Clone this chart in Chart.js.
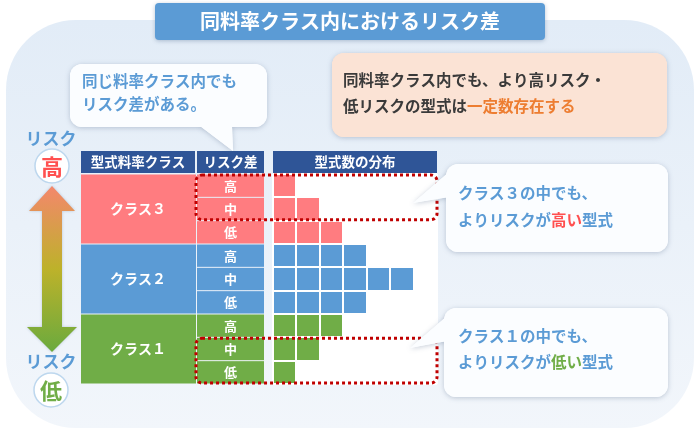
<!DOCTYPE html>
<html>
<head>
<meta charset="utf-8">
<script src="https://cdn.jsdelivr.net/npm/chart.js@4.4.0/dist/chart.umd.min.js"></script>
<style>
  html, body { margin: 0; padding: 0; background: #fff; }
  #wrap { width: 700px; height: 432px; }
</style>
</head>
<body>
<div id="wrap"><canvas id="riskChart" width="700" height="432"></canvas></div>
<script>
// rows: class 3 (high/mid/low), class 2, class 1
const classNames = ['クラス３', 'クラス２', 'クラス１'];
const riskLevels = ['高', '中', '低'];
const class3Counts = [1, 2, 3];
const class2Counts = [4, 6, 4];
const class1Counts = [3, 2, 1];
const headers = ['型式料率クラス', 'リスク差', '型式数の分布'];

const classColors = ['#FF7C80', '#5B9BD5', '#70AD47'];
const FONT = '"Noto Sans CJK JP", "Noto Sans", sans-serif';

const rowLabels = [];
const rowColors = [];
classNames.forEach((c, ci) => riskLevels.forEach(r => {
  rowLabels.push(c + ' ' + r);
  rowColors.push(classColors[ci]);
}));
const counts = [...class3Counts, ...class2Counts, ...class1Counts];

function rowBounds(chart, i) {
  const y = chart.scales.y;
  const half = (chart.chartArea.bottom - chart.chartArea.top) / (rowLabels.length * 2);
  const c = y.getPixelForValue(i);
  return [c - half, c + half];
}

function text(ctx, str, x, y, size, color, align) {
  ctx.font = 'bold ' + size + 'px ' + FONT;
  ctx.fillStyle = color;
  ctx.textAlign = align || 'center';
  ctx.textBaseline = 'middle';
  ctx.fillText(str, x, y);
}

// text made of [string, colour] pieces
function richText(ctx, parts, x, y, size) {
  ctx.font = 'bold ' + size + 'px ' + FONT;
  ctx.textAlign = 'left';
  ctx.textBaseline = 'middle';
  let cx = x;
  parts.forEach(p => {
    ctx.fillStyle = p[1];
    ctx.fillText(p[0], cx, y);
    cx += ctx.measureText(p[0]).width;
  });
}

function shape(ctx, x, y, w, h, tail) {
  ctx.beginPath();
  ctx.roundRect(x, y, w, h, 12);
  ctx.fill();
  if (tail) {
    ctx.beginPath();
    ctx.moveTo(tail[0][0], tail[0][1]);
    ctx.lineTo(tail[1][0], tail[1][1]);
    ctx.lineTo(tail[2][0], tail[2][1]);
    ctx.closePath();
    ctx.fill();
  }
}

function callout(ctx, x, y, w, h, tail, fill) {
  ctx.save();
  ctx.shadowColor = 'rgba(90,110,140,0.35)';
  ctx.shadowBlur = 5;
  ctx.shadowOffsetY = 1;
  ctx.fillStyle = fill;
  shape(ctx, x, y, w, h, tail);
  ctx.restore();
  ctx.fillStyle = fill;
  shape(ctx, x, y, w, h, tail);
}

const decor = {
  id: 'decor',
  beforeDraw(chart) {
    const ctx = chart.ctx;
    const area = chart.chartArea;
    ctx.save();
    ctx.fillStyle = '#fff';
    ctx.fillRect(0, 0, chart.width, chart.height);

    // pale blue backdrop
    const bg = ctx.createLinearGradient(0, 20, 0, 430);
    bg.addColorStop(0, '#E2ECF7');
    bg.addColorStop(1, '#F2F6FB');
    ctx.fillStyle = bg;
    ctx.beginPath();
    ctx.roundRect(6, 20, 688, 408, 70);
    ctx.fill();

    // title
    ctx.save();
    ctx.shadowColor = 'rgba(60,90,130,0.35)';
    ctx.shadowBlur = 4;
    ctx.shadowOffsetY = 1;
    ctx.fillStyle = '#5B9BD5';
    ctx.beginPath();
    ctx.roundRect(155, 3, 390, 37, 4);
    ctx.fill();
    ctx.restore();
    text(ctx, '同料率クラス内におけるリスク差', 350, 21, 20, '#fff');

    // white panel behind table
    ctx.fillStyle = '#fff';
    ctx.fillRect(area.left, area.top, area.right - area.left, area.bottom - area.top);

    // header row
    const colX = [[81, 195], [197, 264], [area.left, area.right]];
    colX.forEach((c, i) => {
      ctx.fillStyle = '#2F5597';
      ctx.fillRect(c[0], 151, c[1] - c[0], 22);
      text(ctx, headers[i], (c[0] + c[1]) / 2, 162, 13.5, '#fff');
    });

    // class cells and risk cells
    classNames.forEach((name, ci) => {
      const top = rowBounds(chart, ci * 3)[0];
      const bot = rowBounds(chart, ci * 3 + 2)[1];
      ctx.fillStyle = classColors[ci];
      ctx.fillRect(81, top + 0.5, 115, bot - top - 1);
      text(ctx, name, 138, (top + bot) / 2, 14, '#fff');
      riskLevels.forEach((r, ri) => {
        const b = rowBounds(chart, ci * 3 + ri);
        ctx.fillStyle = classColors[ci];
        ctx.fillRect(197, b[0] + 0.5, 67, b[1] - b[0] - 1);
        text(ctx, r, 230.5, (b[0] + b[1]) / 2, 13, '#fff');
      });
    });

    // risk arrow
    const ag = ctx.createLinearGradient(0, 186, 0, 352);
    ag.addColorStop(0, '#F4876C');
    ag.addColorStop(0.5, '#BDB22A');
    ag.addColorStop(1, '#6AAA3E');
    ctx.save();
    ctx.shadowColor = 'rgba(60,90,130,0.3)';
    ctx.shadowBlur = 3;
    ctx.fillStyle = ag;
    ctx.beginPath();
    ctx.moveTo(52, 186);
    ctx.lineTo(75, 211);
    ctx.lineTo(62, 211);
    ctx.lineTo(62, 327);
    ctx.lineTo(77, 327);
    ctx.lineTo(52, 352);
    ctx.lineTo(27, 327);
    ctx.lineTo(42, 327);
    ctx.lineTo(42, 211);
    ctx.lineTo(29, 211);
    ctx.closePath();
    ctx.fill();
    ctx.restore();

    text(ctx, 'リスク', 51, 139, 17, '#5B9BD5');
    text(ctx, 'リスク', 51, 362, 17, '#5B9BD5');
    [[52, 166, '高', '#FF5050'], [51, 390, '低', '#70AD47']].forEach(c => {
      ctx.fillStyle = '#fff';
      ctx.strokeStyle = '#BDD7EE';
      ctx.lineWidth = 1.5;
      ctx.beginPath();
      ctx.arc(c[0], c[1], 17, 0, Math.PI * 2);
      ctx.fill();
      ctx.stroke();
      text(ctx, c[2], c[0], c[1] + 1, 22, c[3]);
    });
    ctx.restore();
  },
  afterDraw(chart) {
    const ctx = chart.ctx;
    const area = chart.chartArea;
    ctx.save();

    // dotted frames around highlighted rows
    ctx.strokeStyle = '#C00000';
    ctx.lineWidth = 3;
    ctx.setLineDash([3, 3]);
    [[0, 1], [7, 8]].forEach(r => {
      const top = rowBounds(chart, r[0])[0];
      const bot = rowBounds(chart, r[1])[1];
      ctx.beginPath();
      ctx.roundRect(196, top + 1, area.right - 196, bot - top - 2, 6);
      ctx.stroke();
    });
    ctx.setLineDash([]);

    // callouts
    callout(ctx, 70, 64, 197, 63, [[200, 126], [233, 151], [232, 126]], '#FBFDFF');
    text(ctx, '同じ料率クラス内でも', 82, 81, 15.5, '#5B9BD5', 'left');
    text(ctx, 'リスク差がある。', 82, 104, 15.5, '#5B9BD5', 'left');

    callout(ctx, 332, 53, 335, 84, null, '#FBE3D5');
    richText(ctx, [['同料率クラス内でも、より高リスク・', '#3A3A3A']], 343, 80, 15.5);
    richText(ctx, [['低リスクの型式は', '#3A3A3A'], ['一定数存在する', '#ED7D31']], 343, 106, 15.5);

    callout(ctx, 446, 164, 222, 88, [[449, 172], [413, 203], [449, 197]], '#FBFDFF');
    richText(ctx, [['クラス３の中でも、', '#5B9BD5']], 458, 193, 15.5);
    richText(ctx, [['よりリスクが', '#5B9BD5'], ['高い', '#FF5050'], ['型式', '#5B9BD5']], 458, 220, 15.5);

    callout(ctx, 444, 308, 224, 89, [[447, 316], [410, 348], [447, 341]], '#FBFDFF');
    richText(ctx, [['クラス１の中でも、', '#5B9BD5']], 458, 336, 15.5);
    richText(ctx, [['よりリスクが', '#5B9BD5'], ['低い', '#70AD47'], ['型式', '#5B9BD5']], 458, 362, 15.5);
    ctx.restore();
  }
};

new Chart(document.getElementById('riskChart'), {
  type: 'bar',
  data: {
    labels: rowLabels,
    datasets: [{
      label: '型式数',
      data: counts,
      backgroundColor: rowColors,
      borderWidth: 0,
      barPercentage: 1,
      categoryPercentage: 1
    }]
  },
  options: {
    responsive: false,
    animation: false,
    devicePixelRatio: 1,
    indexAxis: 'y',
    layout: { padding: { left: 273, right: 263, top: 174, bottom: 48 } },
    plugins: {
      legend: { display: false },
      tooltip: { enabled: false }
    },
    scales: {
      x: {
        min: 0,
        max: 7,
        ticks: { display: false, stepSize: 1 },
        grid: { color: '#fff', lineWidth: 2, drawTicks: false, z: 1 },
        border: { display: false }
      },
      y: {
        ticks: { display: false },
        grid: { color: '#fff', lineWidth: 2, drawTicks: false, z: 1 },
        border: { display: false }
      }
    }
  },
  plugins: [decor]
});
</script>
</body>
</html>
